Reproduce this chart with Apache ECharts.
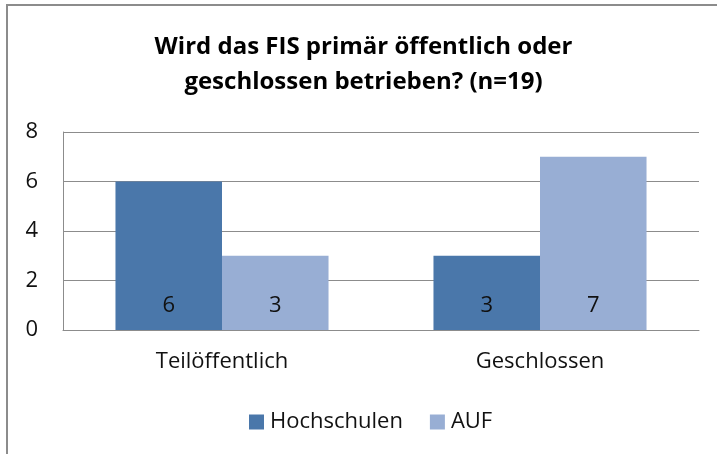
<!DOCTYPE html>
<html lang="de">
<head>
    <meta charset="UTF-8">
    <script src="https://cdn.jsdelivr.net/npm/echarts@6/dist/echarts.min.js"></script>
    <title>FIS</title>
</head>
<body style="margin:0; background:#fff;">
<div id="container" style="position:absolute; left:6px; top:4px; width:711px; height:450px; border-top:2px solid #8c8c8c; border-left:2px solid #8c8c8c;"></div>
<script>
    let categories = ['Teilöffentlich', 'Geschlossen'];
    let hochschulen = [6, 3];
    let auf = [3, 7];
    let yTicks = [0, 2, 4, 6, 8];

    let font = '"Open Sans", sans-serif';
    let dom = document.getElementById('container');
    let myChart = echarts.init(dom);
    let option = {
        animation: false,
        textStyle: { fontFamily: font },
        title: {
            text: 'Wird das FIS primär öffentlich oder\ngeschlossen betrieben? (n=19)',
            left: 'center',
            top: 19,
            textStyle: { fontSize: 24, fontWeight: 'bold', color: '#000', lineHeight: 35, fontFamily: font }
        },
        legend: {
            top: 400,
            left: 236,
            itemWidth: 15,
            itemHeight: 15,
            itemGap: 27,
            icon: 'rect',
            textStyle: { fontSize: 22, color: '#111', fontFamily: font, padding: [0, 0, 0, 1] },
            data: ['Hochschulen', 'AUF']
        },
        grid: { left: 55, right: 20, top: 126, bottom: 126 },
        xAxis: {
            type: 'category',
            data: categories,
            axisLine: { lineStyle: { color: '#8c8c8c', width: 1 } },
            axisTick: { show: false },
            axisLabel: { fontSize: 22, color: '#111', margin: 21, fontFamily: font }
        },
        yAxis: {
            type: 'value',
            min: yTicks[0],
            max: yTicks[yTicks.length - 1],
            interval: 2,
            axisLine: { show: true, lineStyle: { color: '#8c8c8c' } },
            axisTick: { show: false },
            axisLabel: { fontSize: 22, color: '#111', margin: 25, fontFamily: font },
            splitLine: { lineStyle: { color: '#8c8c8c' } }
        },
        series: [
            {
                name: 'Hochschulen',
                type: 'bar',
                data: hochschulen,
                barGap: '0%',
                barCategoryGap: '33%',
                itemStyle: { color: '#4a77aa' },
                label: { show: true, position: 'insideBottom', distance: 13, fontSize: 22, color: '#111', fontFamily: font }
            },
            {
                name: 'AUF',
                type: 'bar',
                data: auf,
                barGap: '0%',
                barCategoryGap: '33%',
                itemStyle: { color: '#98aed4' },
                label: { show: true, position: 'insideBottom', distance: 13, fontSize: 22, color: '#111', fontFamily: font }
            }
        ]
    };
    myChart.setOption(option);
</script>
</body>
</html>
